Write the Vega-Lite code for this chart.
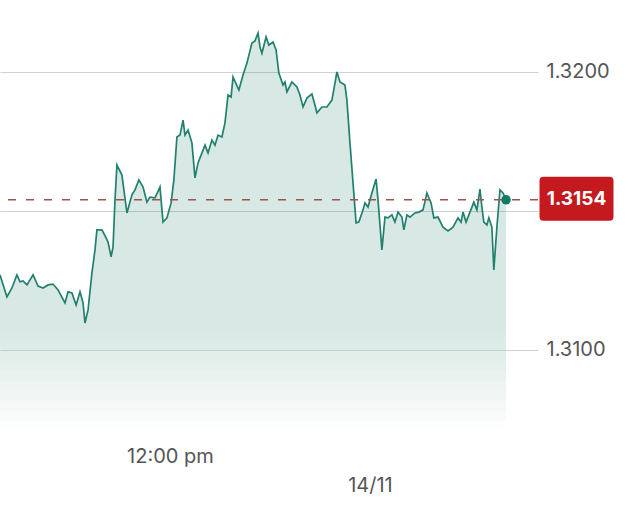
{
  "$schema": "https://vega.github.io/schema/vega-lite/v6.json",
  "width": 538,
  "height": 430,
  "autosize": {"type": "none"},
  "padding": {"left": 0, "top": 0, "right": 96, "bottom": 78},
  "background": "white",
  "config": {"view": {"stroke": null}, "font": "Inter"},
  "datasets": {
    "fx": [
      {"t": "2025-11-13T01:48:00Z", "v": 1.31270},
      {"t": "2025-11-13T02:13:00Z", "v": 1.31191},
      {"t": "2025-11-13T02:31:00Z", "v": 1.31223},
      {"t": "2025-11-13T02:49:00Z", "v": 1.31270},
      {"t": "2025-11-13T03:00:00Z", "v": 1.31245},
      {"t": "2025-11-13T03:11:00Z", "v": 1.31248},
      {"t": "2025-11-13T03:25:00Z", "v": 1.31234},
      {"t": "2025-11-13T03:47:00Z", "v": 1.31270},
      {"t": "2025-11-13T04:05:00Z", "v": 1.31230},
      {"t": "2025-11-13T04:23:00Z", "v": 1.31223},
      {"t": "2025-11-13T04:41:00Z", "v": 1.31234},
      {"t": "2025-11-13T04:59:00Z", "v": 1.31237},
      {"t": "2025-11-13T05:17:00Z", "v": 1.31216},
      {"t": "2025-11-13T05:42:00Z", "v": 1.31169},
      {"t": "2025-11-13T05:53:00Z", "v": 1.31209},
      {"t": "2025-11-13T06:07:00Z", "v": 1.31205},
      {"t": "2025-11-13T06:22:00Z", "v": 1.31162},
      {"t": "2025-11-13T06:36:00Z", "v": 1.31209},
      {"t": "2025-11-13T06:47:00Z", "v": 1.31169},
      {"t": "2025-11-13T06:54:00Z", "v": 1.31097},
      {"t": "2025-11-13T07:05:00Z", "v": 1.31144},
      {"t": "2025-11-13T07:19:00Z", "v": 1.31277},
      {"t": "2025-11-13T07:30:00Z", "v": 1.31360},
      {"t": "2025-11-13T07:37:00Z", "v": 1.31432},
      {"t": "2025-11-13T07:55:00Z", "v": 1.31432},
      {"t": "2025-11-13T08:10:00Z", "v": 1.31403},
      {"t": "2025-11-13T08:17:00Z", "v": 1.31388},
      {"t": "2025-11-13T08:28:00Z", "v": 1.31335},
      {"t": "2025-11-13T08:35:00Z", "v": 1.31371},
      {"t": "2025-11-13T08:42:00Z", "v": 1.31540},
      {"t": "2025-11-13T08:49:00Z", "v": 1.31665},
      {"t": "2025-11-13T09:07:00Z", "v": 1.31629},
      {"t": "2025-11-13T09:25:00Z", "v": 1.31493},
      {"t": "2025-11-13T09:43:00Z", "v": 1.31558},
      {"t": "2025-11-13T09:54:00Z", "v": 1.31576},
      {"t": "2025-11-13T10:08:00Z", "v": 1.31612},
      {"t": "2025-11-13T10:23:00Z", "v": 1.31586},
      {"t": "2025-11-13T10:37:00Z", "v": 1.31532},
      {"t": "2025-11-13T10:48:00Z", "v": 1.31550},
      {"t": "2025-11-13T11:06:00Z", "v": 1.31547},
      {"t": "2025-11-13T11:24:00Z", "v": 1.31586},
      {"t": "2025-11-13T11:35:00Z", "v": 1.31460},
      {"t": "2025-11-13T11:49:00Z", "v": 1.31475},
      {"t": "2025-11-13T12:04:00Z", "v": 1.31529},
      {"t": "2025-11-13T12:14:00Z", "v": 1.31612},
      {"t": "2025-11-13T12:25:00Z", "v": 1.31766},
      {"t": "2025-11-13T12:36:00Z", "v": 1.31773},
      {"t": "2025-11-13T12:47:00Z", "v": 1.31827},
      {"t": "2025-11-13T12:54:00Z", "v": 1.31773},
      {"t": "2025-11-13T13:05:00Z", "v": 1.31791},
      {"t": "2025-11-13T13:19:00Z", "v": 1.31745},
      {"t": "2025-11-13T13:30:00Z", "v": 1.31619},
      {"t": "2025-11-13T13:41:00Z", "v": 1.31673},
      {"t": "2025-11-13T14:06:00Z", "v": 1.31737},
      {"t": "2025-11-13T14:17:00Z", "v": 1.31709},
      {"t": "2025-11-13T14:31:00Z", "v": 1.31755},
      {"t": "2025-11-13T14:42:00Z", "v": 1.31737},
      {"t": "2025-11-13T14:53:00Z", "v": 1.31773},
      {"t": "2025-11-13T15:07:00Z", "v": 1.31766},
      {"t": "2025-11-13T15:18:00Z", "v": 1.31817},
      {"t": "2025-11-13T15:29:00Z", "v": 1.31917},
      {"t": "2025-11-13T15:40:00Z", "v": 1.31910},
      {"t": "2025-11-13T15:47:00Z", "v": 1.31982},
      {"t": "2025-11-13T16:08:00Z", "v": 1.31935},
      {"t": "2025-11-13T16:23:00Z", "v": 1.31989},
      {"t": "2025-11-13T16:37:00Z", "v": 1.32032},
      {"t": "2025-11-13T16:55:00Z", "v": 1.32104},
      {"t": "2025-11-13T17:06:00Z", "v": 1.32112},
      {"t": "2025-11-13T17:17:00Z", "v": 1.32140},
      {"t": "2025-11-13T17:24:00Z", "v": 1.32090},
      {"t": "2025-11-13T17:31:00Z", "v": 1.32068},
      {"t": "2025-11-13T17:46:00Z", "v": 1.32126},
      {"t": "2025-11-13T17:56:00Z", "v": 1.32097},
      {"t": "2025-11-13T18:11:00Z", "v": 1.32108},
      {"t": "2025-11-13T18:22:00Z", "v": 1.32079},
      {"t": "2025-11-13T18:32:00Z", "v": 1.31996},
      {"t": "2025-11-13T18:47:00Z", "v": 1.31953},
      {"t": "2025-11-13T18:54:00Z", "v": 1.31964},
      {"t": "2025-11-13T19:01:00Z", "v": 1.31928},
      {"t": "2025-11-13T19:19:00Z", "v": 1.31964},
      {"t": "2025-11-13T19:37:00Z", "v": 1.31946},
      {"t": "2025-11-13T19:48:00Z", "v": 1.31917},
      {"t": "2025-11-13T19:59:00Z", "v": 1.31874},
      {"t": "2025-11-13T20:13:00Z", "v": 1.31906},
      {"t": "2025-11-13T20:31:00Z", "v": 1.31921},
      {"t": "2025-11-13T20:42:00Z", "v": 1.31881},
      {"t": "2025-11-13T20:49:00Z", "v": 1.31853},
      {"t": "2025-11-13T21:07:00Z", "v": 1.31874},
      {"t": "2025-11-13T21:25:00Z", "v": 1.31874},
      {"t": "2025-11-13T21:43:00Z", "v": 1.31899},
      {"t": "2025-11-13T21:54:00Z", "v": 1.31960},
      {"t": "2025-11-13T22:01:00Z", "v": 1.32000},
      {"t": "2025-11-13T22:12:00Z", "v": 1.31964},
      {"t": "2025-11-13T22:30:00Z", "v": 1.31953},
      {"t": "2025-11-13T22:37:00Z", "v": 1.31899},
      {"t": "2025-11-13T22:48:00Z", "v": 1.31745},
      {"t": "2025-11-13T22:59:00Z", "v": 1.31601},
      {"t": "2025-11-13T23:10:00Z", "v": 1.31457},
      {"t": "2025-11-13T23:20:00Z", "v": 1.31460},
      {"t": "2025-11-13T23:35:00Z", "v": 1.31504},
      {"t": "2025-11-13T23:42:00Z", "v": 1.31529},
      {"t": "2025-11-13T23:53:00Z", "v": 1.31514},
      {"t": "2025-11-14T00:07:00Z", "v": 1.31565},
      {"t": "2025-11-14T00:22:00Z", "v": 1.31615},
      {"t": "2025-11-14T00:29:00Z", "v": 1.31540},
      {"t": "2025-11-14T00:43:00Z", "v": 1.31360},
      {"t": "2025-11-14T00:54:00Z", "v": 1.31478},
      {"t": "2025-11-14T01:05:00Z", "v": 1.31475},
      {"t": "2025-11-14T01:19:00Z", "v": 1.31486},
      {"t": "2025-11-14T01:30:00Z", "v": 1.31460},
      {"t": "2025-11-14T01:41:00Z", "v": 1.31496},
      {"t": "2025-11-14T01:55:00Z", "v": 1.31478},
      {"t": "2025-11-14T02:02:00Z", "v": 1.31432},
      {"t": "2025-11-14T02:13:00Z", "v": 1.31486},
      {"t": "2025-11-14T02:24:00Z", "v": 1.31478},
      {"t": "2025-11-14T02:42:00Z", "v": 1.31493},
      {"t": "2025-11-14T02:56:00Z", "v": 1.31496},
      {"t": "2025-11-14T03:11:00Z", "v": 1.31504},
      {"t": "2025-11-14T03:25:00Z", "v": 1.31565},
      {"t": "2025-11-14T03:40:00Z", "v": 1.31529},
      {"t": "2025-11-14T03:50:00Z", "v": 1.31475},
      {"t": "2025-11-14T04:05:00Z", "v": 1.31478},
      {"t": "2025-11-14T04:23:00Z", "v": 1.31442},
      {"t": "2025-11-14T04:41:00Z", "v": 1.31428},
      {"t": "2025-11-14T04:59:00Z", "v": 1.31442},
      {"t": "2025-11-14T05:17:00Z", "v": 1.31475},
      {"t": "2025-11-14T05:28:00Z", "v": 1.31460},
      {"t": "2025-11-14T05:35:00Z", "v": 1.31496},
      {"t": "2025-11-14T05:46:00Z", "v": 1.31460},
      {"t": "2025-11-14T06:00:00Z", "v": 1.31496},
      {"t": "2025-11-14T06:14:00Z", "v": 1.31532},
      {"t": "2025-11-14T06:25:00Z", "v": 1.31504},
      {"t": "2025-11-14T06:36:00Z", "v": 1.31579},
      {"t": "2025-11-14T06:43:00Z", "v": 1.31514},
      {"t": "2025-11-14T06:50:00Z", "v": 1.31460},
      {"t": "2025-11-14T07:01:00Z", "v": 1.31450},
      {"t": "2025-11-14T07:08:00Z", "v": 1.31475},
      {"t": "2025-11-14T07:19:00Z", "v": 1.31442},
      {"t": "2025-11-14T07:26:00Z", "v": 1.31288},
      {"t": "2025-11-14T07:37:00Z", "v": 1.31442},
      {"t": "2025-11-14T07:48:00Z", "v": 1.31576},
      {"t": "2025-11-14T07:59:00Z", "v": 1.31565},
      {"t": "2025-11-14T08:10:00Z", "v": 1.31540}
    ],
    "last": [
      {"t": "2025-11-14T08:10:00Z", "v": 1.3154}
    ]
  },
  "encoding": {
    "y": {
      "field": "v",
      "type": "quantitative",
      "scale": {"domain": [1.30712, 1.32259], "zero": false, "nice": false},
      "axis": {
        "orient": "right",
        "values": [1.31, 1.315, 1.32],
        "labelExpr": "abs(datum.value - 1.315) < 0.0001 ? '' : format(datum.value, '.4f')",
        "grid": true,
        "gridColor": "#cfd3d3",
        "gridWidth": 1.2,
        "domain": false,
        "ticks": false,
        "labelPadding": 8,
        "labelFont": "Inter",
        "labelFontSize": 20,
        "labelColor": "#555555",
        "title": null
      }
    }
  },
  "layer": [
    {
      "data": {"name": "fx"},
      "mark": {"type": "area", "clip": true, "color": "#1f7f6d", "opacity": 0.18},
      "encoding": {
        "x": {
          "field": "t",
          "type": "temporal",
          "scale": {
            "type": "utc",
            "domain": [
              {"year": 2025, "month": 11, "date": 13, "hours": 1, "minutes": 48, "utc": true},
              {"year": 2025, "month": 11, "date": 14, "hours": 10, "minutes": 5, "utc": true}
            ]
          },
          "axis": {
            "values": [
              {"year": 2025, "month": 11, "date": 13, "hours": 12, "utc": true},
              {"year": 2025, "month": 11, "date": 14, "hours": 0, "utc": true}
            ],
            "labelExpr": "utchours(datum.value) == 12 ? '12:00 pm' : '14/11'",
            "labelPadding": {"condition": {"test": "utchours(datum.value) == 0", "value": 45}, "value": 16},
            "domain": false,
            "ticks": false,
            "grid": false,
            "title": null,
            "labelFont": "Inter",
            "labelFontSize": 20,
            "labelColor": "#555555",
            "labelFlush": false,
            "labelOverlap": false,
            "labelBound": false
          }
        }
      }
    },
    {
      "data": {"name": "fx"},
      "mark": {"type": "area", "clip": true, "color": "white", "opacity": 0.095},
      "encoding": {"x": {"field": "t", "type": "temporal"}, "y": {"datum": 1.31068}, "y2": {"datum": 1.30712}}
    },
    {
      "data": {"name": "fx"},
      "mark": {"type": "area", "clip": true, "color": "white", "opacity": 0.105},
      "encoding": {"x": {"field": "t", "type": "temporal"}, "y": {"datum": 1.31032}, "y2": {"datum": 1.30712}}
    },
    {
      "data": {"name": "fx"},
      "mark": {"type": "area", "clip": true, "color": "white", "opacity": 0.117},
      "encoding": {"x": {"field": "t", "type": "temporal"}, "y": {"datum": 1.30996}, "y2": {"datum": 1.30712}}
    },
    {
      "data": {"name": "fx"},
      "mark": {"type": "area", "clip": true, "color": "white", "opacity": 0.133},
      "encoding": {"x": {"field": "t", "type": "temporal"}, "y": {"datum": 1.30960}, "y2": {"datum": 1.30712}}
    },
    {
      "data": {"name": "fx"},
      "mark": {"type": "area", "clip": true, "color": "white", "opacity": 0.153},
      "encoding": {"x": {"field": "t", "type": "temporal"}, "y": {"datum": 1.30924}, "y2": {"datum": 1.30712}}
    },
    {
      "data": {"name": "fx"},
      "mark": {"type": "area", "clip": true, "color": "white", "opacity": 0.181},
      "encoding": {"x": {"field": "t", "type": "temporal"}, "y": {"datum": 1.30888}, "y2": {"datum": 1.30712}}
    },
    {
      "data": {"name": "fx"},
      "mark": {"type": "area", "clip": true, "color": "white", "opacity": 0.221},
      "encoding": {"x": {"field": "t", "type": "temporal"}, "y": {"datum": 1.30853}, "y2": {"datum": 1.30712}}
    },
    {
      "data": {"name": "fx"},
      "mark": {"type": "area", "clip": true, "color": "white", "opacity": 0.284},
      "encoding": {"x": {"field": "t", "type": "temporal"}, "y": {"datum": 1.30817}, "y2": {"datum": 1.30712}}
    },
    {
      "data": {"name": "fx"},
      "mark": {"type": "area", "clip": true, "color": "white", "opacity": 0.396},
      "encoding": {"x": {"field": "t", "type": "temporal"}, "y": {"datum": 1.30781}, "y2": {"datum": 1.30712}}
    },
    {
      "data": {"name": "fx"},
      "mark": {"type": "area", "clip": true, "color": "white", "opacity": 0.655},
      "encoding": {"x": {"field": "t", "type": "temporal"}, "y": {"datum": 1.30745}, "y2": {"datum": 1.30712}}
    },
    {
      "data": {"name": "fx"},
      "mark": {"type": "line", "clip": true, "color": "#22806e", "strokeWidth": 1.7},
      "encoding": {
        "x": {"field": "t", "type": "temporal"}
      }
    },
    {
      "data": {"name": "last"},
      "mark": {"type": "rule", "color": "#a0524e", "strokeWidth": 1.5, "strokeDash": [8, 10]},
      "encoding": {}
    },
    {
      "data": {"name": "last"},
      "mark": {"type": "point", "filled": true, "opacity": 1, "color": "#147a62", "size": 90, "clip": false},
      "encoding": {
        "x": {"field": "t", "type": "temporal"}
      }
    },
    {
      "data": {"name": "last"},
      "mark": {
        "type": "point",
        "filled": true,
        "opacity": 1,
        "color": "#c41a1f",
        "size": 5476,
        "clip": false,
        "xOffset": 38.5,
        "yOffset": -1,
        "shape": "M-0.892,-0.595 L0.892,-0.595 Q1,-0.595 1,-0.487 L1,0.487 Q1,0.595 0.892,0.595 L-0.892,0.595 Q-1,0.595 -1,0.487 L-1,-0.487 Q-1,-0.595 -0.892,-0.595 Z"
      },
      "encoding": {
        "x": {"datum": {"year": 2025, "month": 11, "date": 14, "hours": 10, "minutes": 5, "utc": true}, "type": "temporal"}
      }
    },
    {
      "data": {"name": "last"},
      "mark": {
        "type": "text",
        "color": "white",
        "font": "Inter",
        "fontWeight": "bold",
        "fontSize": 19,
        "align": "center",
        "baseline": "middle",
        "xOffset": 38.5,
        "yOffset": -1,
        "clip": false
      },
      "encoding": {
        "x": {"datum": {"year": 2025, "month": 11, "date": 14, "hours": 10, "minutes": 5, "utc": true}, "type": "temporal"},
        "text": {"field": "v", "type": "quantitative", "format": ".4f"}
      }
    }
  ]
}
